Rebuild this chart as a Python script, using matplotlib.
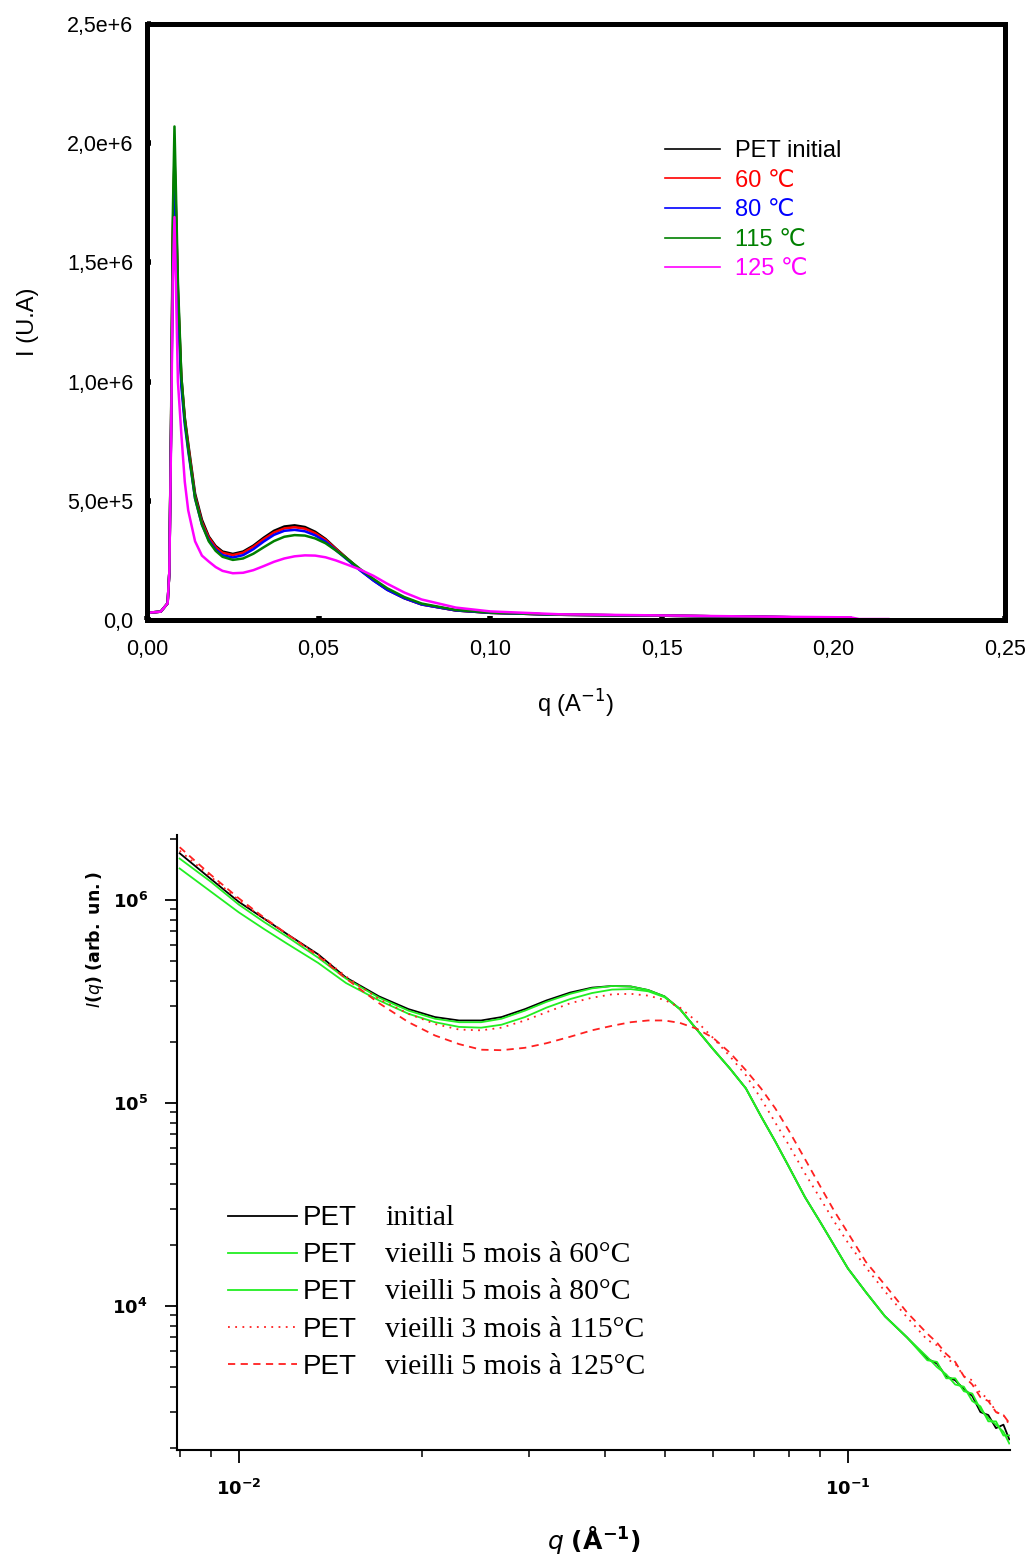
import matplotlib
matplotlib.use("Agg")
import matplotlib.pyplot as plt
from matplotlib.ticker import FixedLocator, FixedFormatter, NullFormatter

plt.rcParams['font.family'] = ['Liberation Sans', 'DejaVu Sans']

# ---- top panel: linear SAXS curves (I in units of 1e6) ----
q_top = [0.000, 0.004, 0.006, 0.0065, 0.007, 0.0075, 0.0080, 0.0085, 0.009, 0.010,
         0.011, 0.012, 0.014, 0.016, 0.018, 0.020, 0.022, 0.025, 0.028, 0.031,
         0.034, 0.037, 0.040, 0.043, 0.046, 0.049, 0.052, 0.055, 0.058, 0.062,
         0.066, 0.070, 0.075, 0.080, 0.090, 0.100, 0.120, 0.150, 0.180, 0.205]
i_initial = [0.030, 0.035, 0.070, 0.20, 0.80, 1.60, 1.95, 1.68, 1.38, 1.02,
             0.85, 0.74, 0.53, 0.42, 0.35, 0.31, 0.287, 0.277, 0.287, 0.312,
             0.345, 0.374, 0.392, 0.397, 0.390, 0.370, 0.340, 0.300, 0.262, 0.212,
             0.167, 0.128, 0.092, 0.066, 0.040, 0.030, 0.022, 0.018, 0.013, 0.008]
i_60 = [0.030, 0.035, 0.070, 0.20, 0.80, 1.58, 1.93, 1.66, 1.36, 1.00,
        0.84, 0.73, 0.52, 0.41, 0.345, 0.305, 0.282, 0.272, 0.282, 0.307,
        0.339, 0.367, 0.384, 0.389, 0.383, 0.364, 0.336, 0.298, 0.260, 0.211,
        0.166, 0.127, 0.091, 0.065, 0.040, 0.030, 0.022, 0.018, 0.013, 0.008]
i_80 = [0.030, 0.035, 0.070, 0.20, 0.78, 1.50, 1.81, 1.58, 1.32, 0.98,
        0.82, 0.71, 0.51, 0.40, 0.335, 0.296, 0.272, 0.262, 0.272, 0.297,
        0.329, 0.357, 0.374, 0.378, 0.372, 0.355, 0.329, 0.293, 0.257, 0.209,
        0.165, 0.126, 0.091, 0.065, 0.040, 0.030, 0.022, 0.018, 0.013, 0.008]
i_115 = [0.030, 0.035, 0.070, 0.20, 0.82, 1.68, 2.07, 1.75, 1.42, 1.02,
         0.84, 0.72, 0.51, 0.40, 0.33, 0.290, 0.265, 0.252, 0.258, 0.278,
         0.305, 0.331, 0.349, 0.356, 0.354, 0.342, 0.322, 0.292, 0.260, 0.215,
         0.172, 0.133, 0.096, 0.069, 0.042, 0.031, 0.022, 0.018, 0.013, 0.008]
q_125 = q_top + [0.2075, 0.216]
i_125 = [0.030, 0.035, 0.070, 0.20, 0.75, 1.42, 1.69, 1.35, 1.00, 0.78,
         0.58, 0.46, 0.33, 0.27, 0.245, 0.222, 0.206, 0.196, 0.198, 0.209,
         0.226, 0.244, 0.258, 0.267, 0.271, 0.270, 0.263, 0.250, 0.234, 0.212,
         0.185, 0.152, 0.115, 0.086, 0.052, 0.036, 0.024, 0.019, 0.014, 0.011,
         0.004, 0.004]
top_labels = ['PET initial', '60 \u2103', '80 \u2103', '115 \u2103', '125 \u2103']
top_colors = ['black', '#ff0000', '#0000ff', '#008000', '#ff00ff']

top_xticks = [0.00, 0.05, 0.10, 0.15, 0.20, 0.25]
top_xticklabels = ['0,00', '0,05', '0,10', '0,15', '0,20', '0,25']
top_yticks = [0.0, 0.5, 1.0, 1.5, 2.0, 2.5]
top_yticklabels = ['0,0', '5,0e+5', '1,0e+6', '1,5e+6', '2,0e+6', '2,5e+6']

# ---- bottom panel: log-log curves ----
q_bot = [0.0080, 0.0090, 0.0100, 0.0110, 0.0120, 0.0135, 0.0150, 0.0170, 0.0190, 0.0210,
         0.0230, 0.0250, 0.0270, 0.0295, 0.0320, 0.0350, 0.0380, 0.0410, 0.0440, 0.0470,
         0.0500, 0.0530, 0.0565, 0.0600, 0.0640, 0.0680, 0.0720, 0.0760, 0.0800, 0.0850,
         0.0900, 0.0950, 0.1000, 0.1070, 0.1150, 0.1250, 0.1350, 0.1400, 0.1450, 0.1500,
         0.1550, 0.1600, 0.1650, 0.1700, 0.1750, 0.1800, 0.1840]
b_initial = [1.70e6, 1.27e6, 0.98e6, 0.81e6, 0.68e6, 0.54e6, 0.415e6, 0.335e6, 0.29e6, 0.265e6,
             0.255e6, 0.255e6, 0.265e6, 0.29e6, 0.32e6, 0.35e6, 0.37e6, 0.377e6, 0.375e6, 0.36e6,
             0.335e6, 0.29e6, 0.23e6, 0.185e6, 0.148e6, 0.118e6, 0.086e6, 0.0646e6, 0.0485e6, 0.0344e6,
             0.026e6, 0.0198e6, 0.0153e6, 0.0117e6, 8.9e3, 7.0e3, 5.5e3, 5.2e3, 4.5e3, 4.3e3,
             3.9e3, 3.6e3, 3.0e3, 2.9e3, 2.5e3, 2.6e3, 2.2e3]
b_60 = [1.60e6, 1.23e6, 0.95e6, 0.78e6, 0.66e6, 0.52e6, 0.41e6, 0.33e6, 0.285e6, 0.26e6,
        0.25e6, 0.25e6, 0.26e6, 0.285e6, 0.315e6, 0.345e6, 0.367e6, 0.377e6, 0.375e6, 0.36e6,
        0.335e6, 0.29e6, 0.23e6, 0.185e6, 0.148e6, 0.118e6, 0.086e6, 0.0646e6, 0.0485e6, 0.0344e6,
        0.026e6, 0.0198e6, 0.0153e6, 0.0117e6, 8.9e3, 7.0e3, 5.4e3, 5.3e3, 4.4e3, 4.4e3,
        3.8e3, 3.7e3, 3.1e3, 2.8e3, 2.6e3, 2.4e3, 2.1e3]
b_80 = [1.43e6, 1.10e6, 0.87e6, 0.72e6, 0.61e6, 0.49e6, 0.39e6, 0.32e6, 0.275e6, 0.25e6,
        0.237e6, 0.235e6, 0.243e6, 0.265e6, 0.295e6, 0.325e6, 0.348e6, 0.362e6, 0.364e6, 0.355e6,
        0.332e6, 0.29e6, 0.23e6, 0.185e6, 0.148e6, 0.118e6, 0.086e6, 0.0646e6, 0.0485e6, 0.0344e6,
        0.026e6, 0.0198e6, 0.0153e6, 0.0117e6, 8.9e3, 7.0e3, 5.6e3, 5.0e3, 4.6e3, 4.1e3,
        4.0e3, 3.4e3, 3.2e3, 2.7e3, 2.7e3, 2.3e3, 2.3e3]
b_115 = [1.75e6, 1.30e6, 1.00e6, 0.81e6, 0.68e6, 0.54e6, 0.42e6, 0.325e6, 0.275e6, 0.245e6,
         0.23e6, 0.228e6, 0.235e6, 0.255e6, 0.28e6, 0.31e6, 0.33e6, 0.343e6, 0.345e6, 0.338e6,
         0.322e6, 0.295e6, 0.252e6, 0.21e6, 0.17e6, 0.137e6, 0.105e6, 0.08e6, 0.062e6, 0.045e6,
         0.034e6, 0.026e6, 0.0205e6, 0.0155e6, 0.0118e6, 8.8e3, 6.8e3, 6.4e3, 5.5e3, 5.2e3,
         4.5e3, 4.3e3, 3.7e3, 3.5e3, 3.0e3, 2.9e3, 2.6e3]
b_125 = [1.82e6, 1.33e6, 1.02e6, 0.82e6, 0.68e6, 0.53e6, 0.41e6, 0.31e6, 0.25e6, 0.215e6,
         0.195e6, 0.183e6, 0.182e6, 0.187e6, 0.197e6, 0.212e6, 0.228e6, 0.24e6, 0.25e6, 0.255e6,
         0.255e6, 0.248e6, 0.232e6, 0.21e6, 0.177e6, 0.145e6, 0.118e6, 0.094e6, 0.073e6, 0.053e6,
         0.039e6, 0.0293e6, 0.0229e6, 0.0165e6, 0.0127e6, 9.3e3, 7.3e3, 6.6e3, 5.8e3, 5.3e3,
         4.5e3, 4.1e3, 3.55e3, 3.4e3, 3.0e3, 2.9e3, 2.65e3]
bot_descr = ['initial', 'vieilli 5 mois \u00e0 60\u00b0C', 'vieilli 5 mois \u00e0 80\u00b0C',
             'vieilli 3 mois \u00e0 115\u00b0C', 'vieilli 5 mois \u00e0 125\u00b0C']

bot_xticks = [0.01, 0.1]
bot_xticklabels = [r'$\mathbf{10^{-2}}$', r'$\mathbf{10^{-1}}$']
bot_yticks = [1e4, 1e5, 1e6]
bot_yticklabels = [r'$\mathbf{10^{4}}$', r'$\mathbf{10^{5}}$', r'$\mathbf{10^{6}}$']

fig = plt.figure(figsize=(10.31, 15.55), dpi=100)

# ================= top =================
ax1 = fig.add_axes([0.1426, 0.6013, 0.8322, 0.3833])
series = [(q_top, i_initial), (q_top, i_60), (q_top, i_80), (q_top, i_115), (q_125, i_125)]
for (qq, ii), lab, col in zip(series, top_labels, top_colors):
    ax1.plot(qq, ii, color=col, lw=1.8, label=lab)
ax1.set_xlim(0, 0.25)
ax1.set_ylim(0, 2.5)
for sp in ax1.spines.values():
    sp.set_linewidth(3.6)
ax1.xaxis.set_major_locator(FixedLocator(top_xticks))
ax1.xaxis.set_major_formatter(FixedFormatter(top_xticklabels))
ax1.yaxis.set_major_locator(FixedLocator(top_yticks))
ax1.yaxis.set_major_formatter(FixedFormatter(top_yticklabels))
ax1.tick_params(direction='in', length=3, width=4, labelsize=15.5)
ax1.tick_params(axis='x', pad=14)
ax1.tick_params(axis='y', pad=10)
ax1.set_xlabel('q (A$^{-1}$)', fontsize=17, labelpad=20)
ax1.set_ylabel('I (U.A)', fontsize=17, labelpad=20)
leg1 = ax1.legend(loc='upper left', bbox_to_anchor=(0.604, 0.805), frameon=False,
                  borderpad=0, borderaxespad=0, fontsize=17, handlelength=2.3,
                  handletextpad=0.65, labelspacing=0.32)
for t, col in zip(leg1.get_texts(), top_colors):
    t.set_color(col)
for h in leg1.get_lines():
    h.set_linewidth(1.2)

# ================= bottom =================
ax2 = fig.add_axes([0.1717, 0.0675, 0.8079, 0.3955])
ax2.set_xscale('log')
ax2.set_yscale('log')
ax2.plot(q_bot, b_initial, color='black', lw=1.3, label='PET')
ax2.plot(q_bot, b_60, color='#22ee22', lw=1.3, label='PET')
ax2.plot(q_bot, b_80, color='#22ee22', lw=1.3, label='PET')
ax2.plot(q_bot, b_115, color='#ff2020', lw=1.3, ls=(0, (1, 3)), label='PET')
ax2.plot(q_bot, b_125, color='#ff2020', lw=1.3, ls=(0, (4, 3)), label='PET')
ax2.set_xlim(0.00792, 0.1845)
ax2.set_ylim(1950, 2.09e6)
ax2.spines['top'].set_visible(False)
ax2.spines['right'].set_visible(False)
for s in ('left', 'bottom'):
    ax2.spines[s].set_linewidth(1.5)
ax2.xaxis.set_major_locator(FixedLocator(bot_xticks))
ax2.xaxis.set_major_formatter(FixedFormatter(bot_xticklabels))
ax2.yaxis.set_major_locator(FixedLocator(bot_yticks))
ax2.yaxis.set_major_formatter(FixedFormatter(bot_yticklabels))
ax2.xaxis.set_minor_formatter(NullFormatter())
ax2.yaxis.set_minor_formatter(NullFormatter())
ax2.tick_params(which='major', direction='out', length=9, width=1.3, labelsize=13, pad=12)
ax2.tick_params(which='minor', direction='out', length=5, width=1.1)
ax2.set_xlabel(r'$\mathbf{\mathit{q}\ (\AA^{-1})}$', fontsize=18, labelpad=18)
ax2.set_ylabel(r'$\mathbf{\mathit{I}(\mathit{q})\ (arb.\ un.)}$', fontsize=12.5)
ax2.yaxis.set_label_coords(-0.085, 0.83)

leg2 = ax2.legend(loc='upper left', bbox_to_anchor=(0.061, 0.398), frameon=False,
                  borderpad=0, borderaxespad=0, fontsize=20, handlelength=2.5,
                  handletextpad=0.2, labelspacing=0.4)
fig.canvas.draw()
inv = fig.transFigure.inverted()
for t, d in zip(leg2.get_texts(), bot_descr):
    bb = t.get_window_extent()
    x0, y0 = inv.transform((bb.x1, (bb.y0 + bb.y1) / 2))
    fig.text(385 / 1031, y0, d, family=['Liberation Serif', 'DejaVu Serif'],
             fontsize=21.3, va='center', ha='left')

fig.savefig('out.png', dpi=100)
